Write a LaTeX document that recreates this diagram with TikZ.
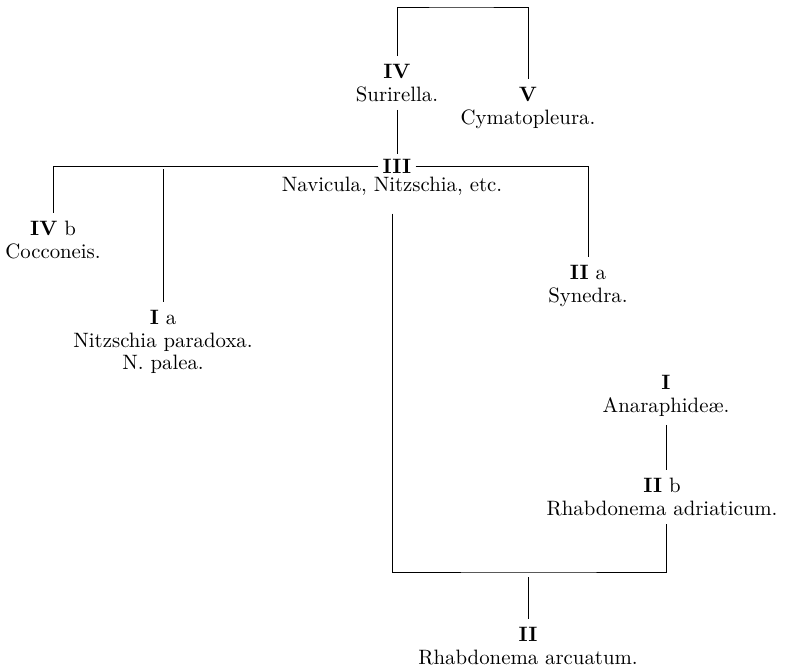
\documentclass[tikz,border=0pt]{standalone}
\begin{document}
\begin{tikzpicture}[x=0.5pt, y=-0.5pt, thin,
    taxon/.style={align=center, inner sep=4pt, font=\fontsize{10.4}{11.2}\selectfont}]
         \useasboundingbox (0,0) rectangle (794,669);
         %nodes
         \node[taxon] at (397,83) (surirella) {\textbf{IV}\\Surirella.};
         \node[taxon] at (528,108) (cymato) {\textbf{V}\\Cymatopleura.};
         \node[taxon, inner sep=2pt] at (397,166) (iii) {\textbf{III}};
         \node[taxon, inner sep=2pt] at (392,186) (navicula) {Navicula, Nitzschia, etc.};
         \node[taxon] at (53,240) (cocconeis) {\textbf{IV} b\\Cocconeis.};
         \node[taxon] at (163,342) (nitzschia) {\textbf{I} a\\Nitzschia paradoxa.\\N. palea.};
         \node[taxon] at (588,286) (synedra) {\textbf{II} a\\Synedra.};
         \node[taxon] at (666,396) (anaraph) {\textbf{I}\\Anaraphide\ae.};
         \node[taxon] at (662,497) (adriat) {\textbf{II} b\\Rhabdonema adriaticum.};
         \node[taxon] at (528,646) (arcuatum) {\textbf{II}\\Rhabdonema arcuatum.};
         \coordinate (top) at (460,7);
         \coordinate (iatop) at (163,169);
         \coordinate (bar) at (528,572);
         \coordinate (barbelow) at (528,577);
         %lines
         \draw (surirella.north) |- (top) -| (cymato.north);
         \draw (surirella.south) -- (iii.north);
         \draw (iii.west) -| (cocconeis.north);
         \draw (iii.east) -| (synedra.north);
         \draw (iatop) -- (nitzschia.north);
         \draw ([yshift=-7pt]navicula.south) |- (bar) -| (anaraph.south |- adriat.south);
         \draw (anaraph.south) -- (anaraph.south |- adriat.north);
         \draw (barbelow) -- (arcuatum.north);
\end{tikzpicture}
\end{document}
